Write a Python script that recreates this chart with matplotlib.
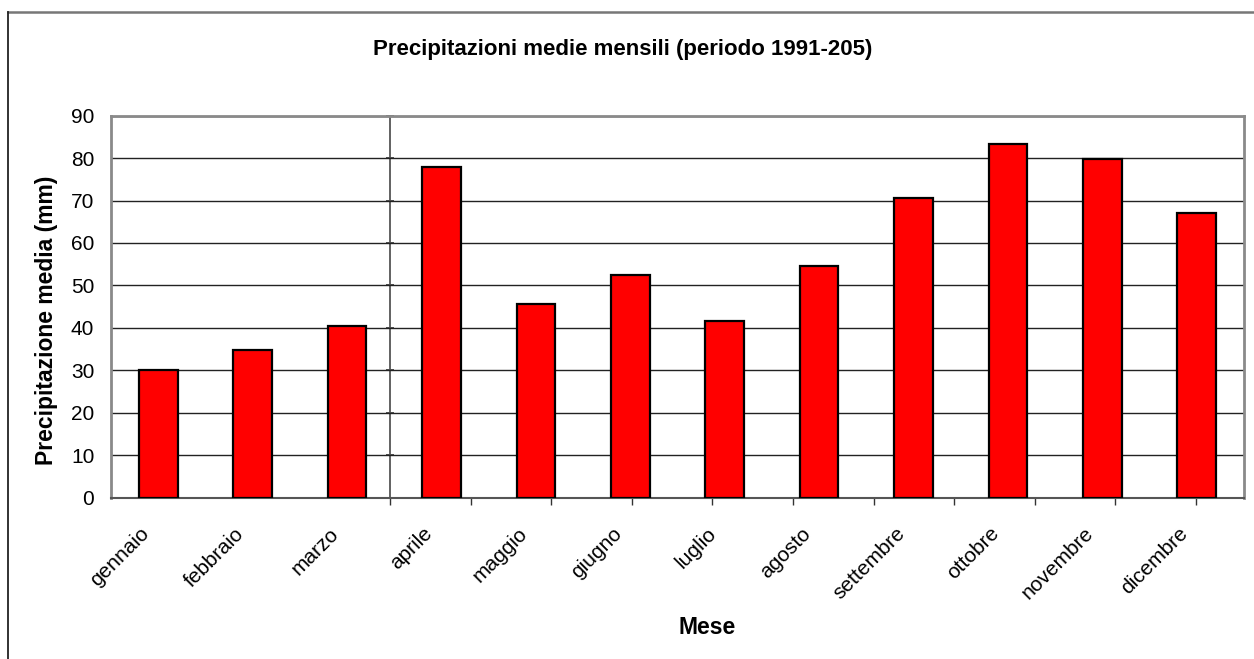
import numpy as np
import matplotlib
matplotlib.use('Agg')
import matplotlib.pyplot as plt
from matplotlib.lines import Line2D
from matplotlib.transforms import ScaledTranslation

plt.rcParams['font.family'] = ['Liberation Sans', 'DejaVu Sans']

mesi = ['gennaio', 'febbraio', 'marzo', 'aprile', 'maggio', 'giugno',
        'luglio', 'agosto', 'settembre', 'ottobre', 'novembre', 'dicembre']
pioggia = [30.1, 34.8, 40.5, 78.0, 45.5, 52.5, 41.6, 54.6, 70.6, 83.3, 79.9, 67.1]
y_ticks = [0, 10, 20, 30, 40, 50, 60, 70, 80, 90]

W, H = 1254, 659
fig = plt.figure(figsize=(W / 100, H / 100), dpi=100)
ax = fig.add_axes([111 / W, 1 - 497.5 / H, 1133 / W, (497.5 - 115.7) / H])

x = np.arange(len(mesi))
ax.bar(x, pioggia, width=0.41, color='#ff0000', edgecolor='black',
       linewidth=1.6, zorder=3)

ax.set_xlim(-0.5, len(mesi) - 0.5)
ax.set_ylim(0, 90)
ax.set_yticks(y_ticks)
ax.tick_params(axis='y', length=0, pad=12, labelsize=15)
ax.yaxis.grid(True, color='#222222', linewidth=1)
ax.set_axisbelow(True)

# odd Excel category ticks: start where the value axis crosses, fixed spacing
cross = 0.2462  # axes fraction of the inner value axis
step = 80.6 / 1133 * len(mesi)
x0 = cross * len(mesi) - 0.5
major = np.arange(x0, len(mesi) - 0.5, step)
ax.set_xticks(major)
ax.set_xticklabels([''] * len(major))
ax.tick_params(axis='x', which='major', length=5, width=1, color='#333333')
ax.set_xticks(x, minor=True)
ax.set_xticklabels(mesi, minor=True, rotation=45, ha='right', va='top',
                   fontsize=15)
ax.tick_params(axis='x', which='minor', length=0, pad=19)
shift = ScaledTranslation(-5 / 100, 0, fig.dpi_scale_trans)
for lbl in ax.get_xticklabels(minor=True):
    lbl.set_transform(lbl.get_transform() + shift)

for s in ['top', 'left', 'right']:
    ax.spines[s].set_color('#8a8a8a')
    ax.spines[s].set_linewidth(2)
ax.spines['bottom'].set_color('#555555')
ax.spines['bottom'].set_linewidth(1.5)

# inner value axis line with small ticks at each grid line
sec = ax.secondary_yaxis(cross)
sec.spines['left'].set_color('#555555')
sec.spines['left'].set_linewidth(1.3)
sec.set_yticks(y_ticks)
sec.set_yticklabels([''] * len(y_ticks))
sec.tick_params(length=6, direction='inout', width=1.2, color='#333333')

fig.text(623 / W, 1 - 49 / H, 'Precipitazioni medie mensili (periodo 1991-205)',
         ha='center', va='center', fontsize=16, fontweight='bold')
fig.text(47 / W, 1 - 320 / H, 'Precipitazione media (mm)', rotation=90,
         ha='center', va='center', fontsize=16.5, fontweight='bold')
fig.text(707 / W, 1 - 627 / H, 'Mese', ha='center', va='center',
         fontsize=16.5, fontweight='bold')

# outer chart frame (cropped at right and bottom)
fig.add_artist(Line2D([8 / W, 1], [1 - 12 / H, 1 - 12 / H], transform=fig.transFigure,
                      color='#777777', linewidth=1.8))
fig.add_artist(Line2D([8 / W, 8 / W], [0, 1 - 12 / H], transform=fig.transFigure,
                      color='#222222', linewidth=1.3))

fig.savefig('out.png', dpi=100)
